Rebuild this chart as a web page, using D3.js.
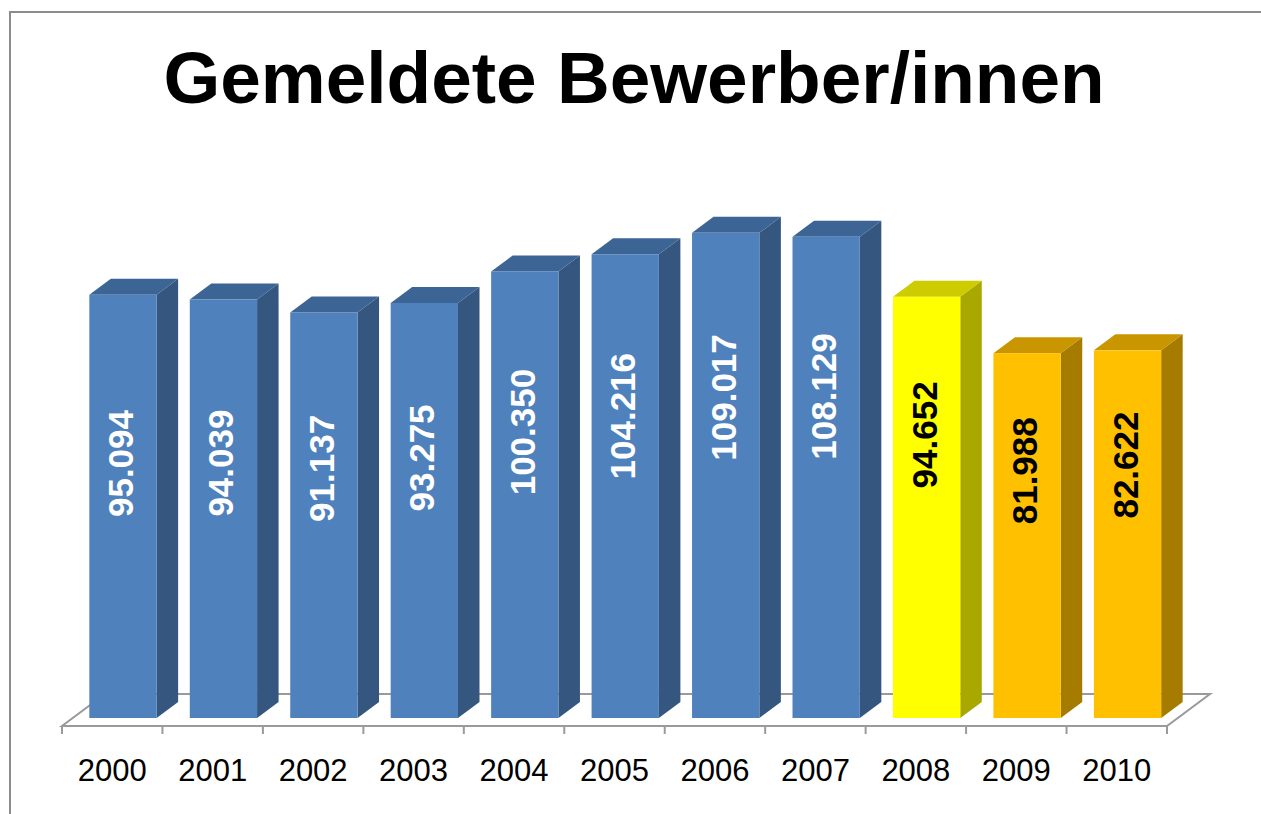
<!DOCTYPE html>
<html>
<head>
<meta charset="utf-8">
<script src="https://cdn.jsdelivr.net/npm/d3@7"></script>
<style>
  body { margin: 0; background: #ffffff; }
  svg { display: block; }
</style>
</head>
<body>
<div id="chart"></div>
<script>
/////////////////////////////////////////////////////
///////////////////// Data //////////////////////////
/////////////////////////////////////////////////////

const years  = ["2000", "2001", "2002", "2003", "2004", "2005", "2006", "2007", "2008", "2009", "2010"];
const values = [95.094, 94.039, 91.137, 93.275, 100.350, 104.216, 109.017, 108.129, 94.652, 81.988, 82.622];
// colour group of each bar: past years blue, 2008 yellow, then orange
const groups = ["blue", "blue", "blue", "blue", "blue", "blue", "blue", "blue", "yellow", "orange", "orange"];

const title = "Gemeldete Bewerber/innen";

/////////////////////////////////////////////////////
///////////////////// Constants /////////////////////
/////////////////////////////////////////////////////

const width  = 1261;
const height = 814;

// floor edges (front edge is where the ticks hang)
const floorLeft  = 62;
const floorRight = 1167;
const floorFront = 726;

// full depth of the floor, bars take the middle half of it
const depthX = 43;
const depthY = 32;
const barDx  = depthX / 2;
const barDy  = depthY / 2;

// face colours: front / top / side
const palette = {
  blue:   { front: "#4f81bd", top: "#3c6595", side: "#34567f", text: "#ffffff" },
  yellow: { front: "#ffff00", top: "#cccc00", side: "#a8a800", text: "#000000" },
  orange: { front: "#ffc000", top: "#c99600", side: "#a67c00", text: "#000000" }
};

const fontFamily = "'Liberation Sans', Arial, sans-serif";

const data = years.map((year, i) => ({ year: year, value: values[i], group: groups[i], index: i }));

/////////////////////////////////////////////////////
///////////////////// Scales ////////////////////////
/////////////////////////////////////////////////////

// bars sit half a depth behind the front edge of the floor
const barBase = floorFront - barDy / 2;

const x = d3.scaleBand()
  .domain(years)
  .range([floorLeft, floorRight])
  .paddingInner(0.33)
  .paddingOuter(0.165);

// plain band scale (no padding) for the tick marks between categories
const xTicks = d3.scaleBand()
  .domain(years)
  .range([floorLeft, floorRight]);

const y = d3.scaleLinear()
  .domain([0, 120])
  .range([barBase, barBase - 534]);

/////////////////////////////////////////////////////
///////////////////// Drawing ///////////////////////
/////////////////////////////////////////////////////

const svg = d3.select("#chart")
  .append("svg")
  .attr("width", width)
  .attr("height", height);

// chart area frame (only top and left show in the picture)
svg.append("rect")
  .attr("x", 10)
  .attr("y", 12)
  .attr("width", width + 40)
  .attr("height", height + 40)
  .attr("fill", "#ffffff")
  .attr("stroke", "#8c8c8c")
  .attr("stroke-width", 2);

// title
svg.append("text")
  .attr("x", 634)
  .attr("y", 103)
  .attr("text-anchor", "middle")
  .style("font-family", fontFamily)
  .style("font-weight", "bold")
  .style("font-size", "73px")
  .style("fill", "#000000")
  .text(title);

// floor outline
const floor = [
  [floorLeft, floorFront],
  [floorRight, floorFront],
  [floorRight + depthX, floorFront - depthY],
  [floorLeft + depthX, floorFront - depthY]
];

svg.append("polygon")
  .attr("points", floor.map(p => p.join(",")).join(" "))
  .attr("fill", "none")
  .attr("stroke", "#9a9a9a")
  .attr("stroke-width", 2);

// tick marks hanging from the front edge
const tickXs = years.map(yr => xTicks(yr)).concat([floorRight]);

svg.append("g").attr("class", "ticks").selectAll("line")
  .data(tickXs)
  .enter().append("line")
  .attr("x1", d => d)
  .attr("x2", d => d)
  .attr("y1", floorFront)
  .attr("y2", floorFront + 8)
  .attr("stroke", "#9a9a9a")
  .attr("stroke-width", 2);

// category labels
svg.append("g").attr("class", "x-labels").selectAll("text")
  .data(years)
  .enter().append("text")
  .attr("x", d => xTicks(d) + xTicks.bandwidth() / 2)
  .attr("y", 781)
  .attr("text-anchor", "middle")
  .style("font-family", fontFamily)
  .style("font-size", "31px")
  .style("fill", "#000000")
  .text(d => d);

// the 3D bars
const bars = svg.append("g").attr("class", "bars").selectAll("g")
  .data(data)
  .enter().append("g");

const fx  = d => x(d.year) + barDx / 2;   // front face left
const bw  = x.bandwidth();

// side face
bars.append("polygon")
  .attr("points", d => {
    const x1 = fx(d) + bw, top = y(d.value);
    return [[x1, barBase], [x1, top], [x1 + barDx, top - barDy], [x1 + barDx, barBase - barDy]]
      .map(p => p.join(",")).join(" ");
  })
  .attr("fill", d => palette[d.group].side);

// top face
bars.append("polygon")
  .attr("points", d => {
    const x0 = fx(d), top = y(d.value);
    return [[x0, top], [x0 + bw, top], [x0 + bw + barDx, top - barDy], [x0 + barDx, top - barDy]]
      .map(p => p.join(",")).join(" ");
  })
  .attr("fill", d => palette[d.group].top);

// front face
bars.append("rect")
  .attr("x", d => fx(d))
  .attr("y", d => y(d.value))
  .attr("width", bw)
  .attr("height", d => barBase - y(d.value))
  .attr("fill", d => palette[d.group].front);

// value labels, rotated; Excel's 3D "center" lands above the middle of the
// front face and drifts upwards towards the right of the chart
const fmt = v => v.toFixed(3);

bars.append("text")
  .attr("transform", d => {
    const h  = barBase - y(d.value);
    const cy = y(d.value) + 0.297 * h + 43 - 3.75 * d.index;
    const cx = fx(d) + bw / 2 + 10;
    return `translate(${cx},${cy}) rotate(-90)`;
  })
  .attr("text-anchor", "middle")
  .style("font-family", fontFamily)
  .style("font-weight", "bold")
  .style("font-size", "35px")
  .style("fill", d => palette[d.group].text)
  .text(d => fmt(d.value));
</script>
</body>
</html>
